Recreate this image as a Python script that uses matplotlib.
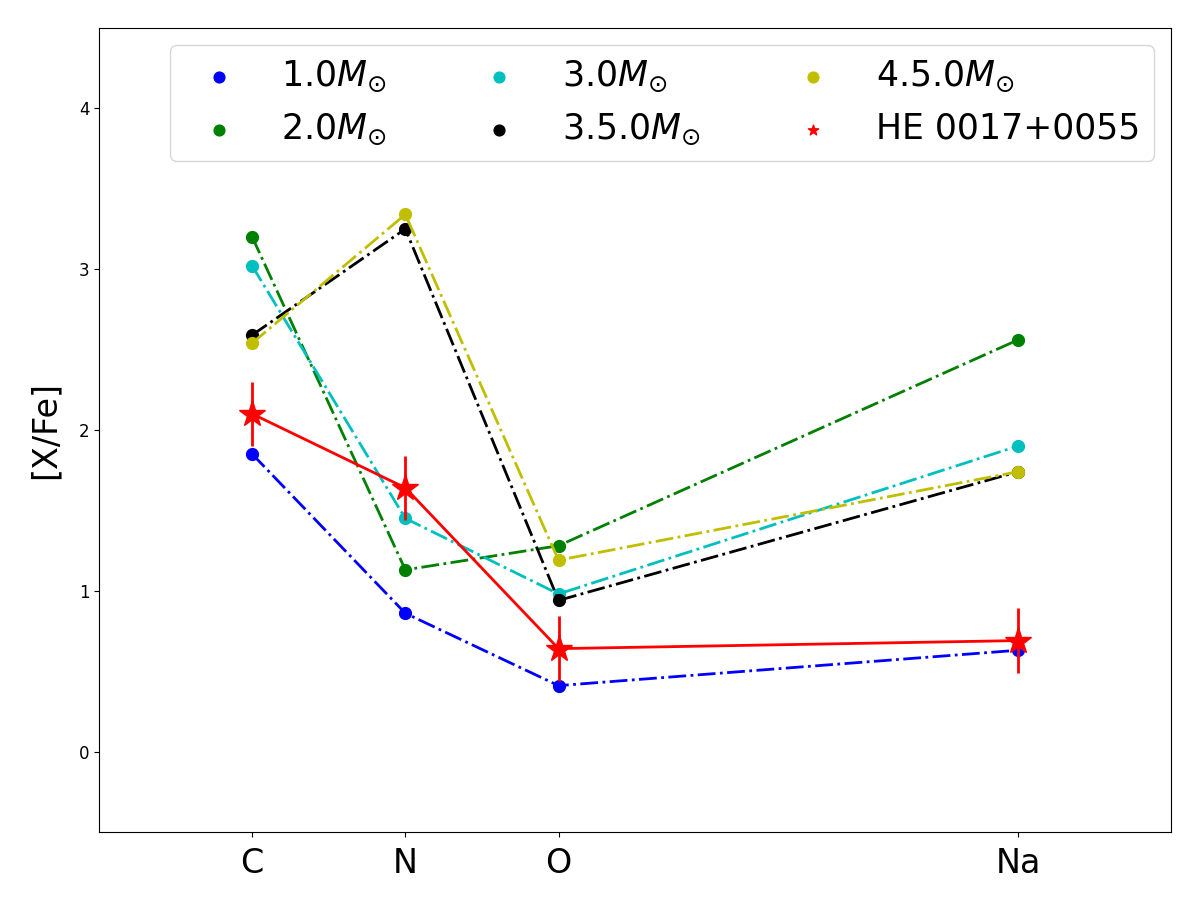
import matplotlib
matplotlib.use('Agg')
import matplotlib.pyplot as plt

# atomic numbers of the elements on the x axis
elements = ['C', 'N', 'O', 'Na']
z_numbers = [6, 7, 8, 11]

# model yields [X/Fe]
mass_labels = [r'$1.0M_{\odot}$', r'$2.0M_{\odot}$', r'$3.0M_{\odot}$',
               r'$3.5.0M_{\odot}$', r'$4.5.0M_{\odot}$']
mass_colors = ['b', 'g', 'c', 'k', 'y']
m10 = [1.85, 0.86, 0.41, 0.63]
m20 = [3.20, 1.13, 1.28, 2.56]
m30 = [3.02, 1.45, 0.98, 1.90]
m35 = [2.59, 3.25, 0.94, 1.74]
m45 = [2.54, 3.34, 1.19, 1.74]
models = [m10, m20, m30, m35, m45]

# observed star
star_name = 'HE 0017+0055'
star_vals = [2.10, 1.64, 0.64, 0.69]
star_err = [0.2, 0.2, 0.2, 0.2]

fig, ax = plt.subplots(figsize=(12, 9), dpi=100)

for vals, col, lab in zip(models, mass_colors, mass_labels):
    ax.plot(z_numbers, vals, '-.', color=col, lw=2, marker='o', markersize=8.5)
    ax.scatter(z_numbers[0], vals[0], color=col, label=lab, s=0)

ax.errorbar(z_numbers, star_vals, yerr=star_err, color='r', lw=2,
            marker='*', markersize=20, elinewidth=2)
ax.scatter([], [], color='r', marker='*', label=star_name)

# legend with small markers
leg = ax.legend(ncol=3, loc='upper right', fontsize=25, columnspacing=2.25)
for h in leg.legend_handles:
    h.set_sizes([60])

ax.set_xlim(5, 12)
ax.set_ylim(-0.5, 4.5)
ax.set_xticks(z_numbers)
ax.set_xticklabels(elements, fontsize=24)
ax.tick_params(axis='x', pad=7)
ax.set_yticks([0, 1, 2, 3, 4])
ax.tick_params(axis='y', labelsize=12)
ax.set_ylabel('[X/Fe]', fontsize=24, labelpad=12)

fig.subplots_adjust(left=0.0825, right=0.976, bottom=0.0756, top=0.969)
plt.savefig('out.png')
